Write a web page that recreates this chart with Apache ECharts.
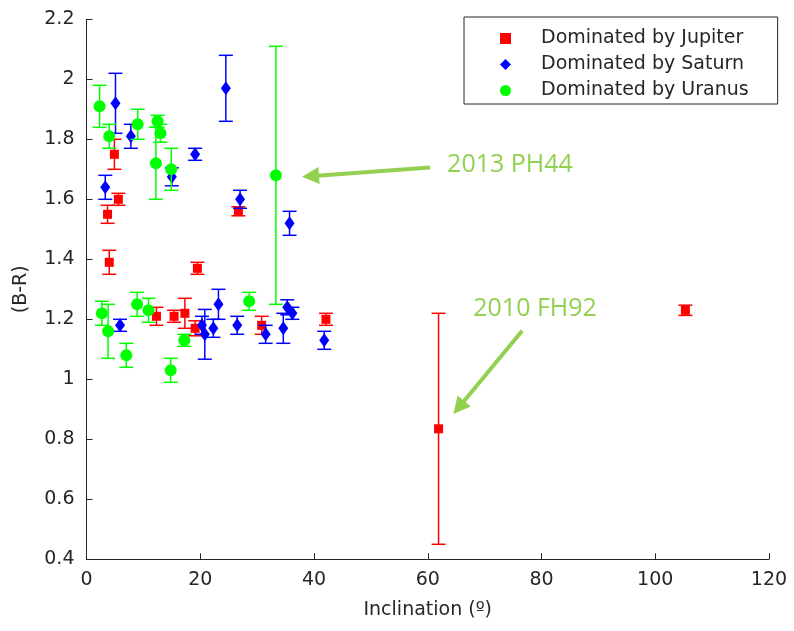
<!DOCTYPE html>
<html>
<head>
<meta charset="utf-8">
<script src="https://cdn.jsdelivr.net/npm/echarts@6/dist/echarts.min.js"></script>
<style>
  html, body { margin: 0; padding: 0; background: #ffffff; }
  #chart { width: 794px; height: 631px; }
</style>
</head>
<body>
<div id="chart"></div>
<script>
// Colour index (B-R) against orbital inclination, grouped by dominating planet.
const seriesNames = ['Dominated by Jupiter', 'Dominated by Saturn', 'Dominated by Uranus'];

const jupiterIncl = [4.9, 5.6, 3.7, 4.0, 19.5, 26.7, 12.3, 15.4, 17.3, 19.1, 30.8, 42.1, 61.9, 105.3];
const jupiterBR   = [1.75, 1.60, 1.55, 1.39, 1.37, 1.56, 1.21, 1.21, 1.22, 1.17, 1.18, 1.20, 0.835, 1.23];
const jupiterErr  = [0.05, 0.02, 0.03, 0.04, 0.02, 0.015, 0.03, 0.02, 0.05, 0.025, 0.03, 0.02, 0.385, 0.017];

const saturnIncl = [5.1, 7.8, 15.0, 19.1, 3.3, 24.5, 27.0, 35.7, 5.9, 20.3, 20.8, 22.3, 23.2, 26.5, 31.5, 34.6, 35.3, 36.2, 41.8];
const saturnBR   = [1.92, 1.81, 1.675, 1.75, 1.64, 1.97, 1.60, 1.52, 1.18, 1.18, 1.15, 1.17, 1.25, 1.18, 1.15, 1.17, 1.24, 1.22, 1.13];
const saturnErr  = [0.10, 0.04, 0.03, 0.02, 0.04, 0.11, 0.03, 0.04, 0.02, 0.03, 0.083, 0.03, 0.05, 0.03, 0.03, 0.05, 0.025, 0.02, 0.03];

const uranusIncl = [2.3, 4.0, 9.0, 12.5, 13.0, 12.2, 14.9, 33.3, 2.7, 3.8, 7.0, 8.9, 10.9, 14.8, 17.2, 28.6];
const uranusBR   = [1.91, 1.81, 1.85, 1.86, 1.82, 1.72, 1.70, 1.68, 1.22, 1.16, 1.08, 1.25, 1.23, 1.03, 1.13, 1.26];
const uranusErr  = [0.07, 0.04, 0.05, 0.02, 0.03, 0.12, 0.07, 0.43, 0.04, 0.09, 0.04, 0.04, 0.04, 0.04, 0.02, 0.03];

const xTickLabels = ['0', '20', '40', '60', '80', '100', '120'];
const yTickLabels = ['0.4', '0.6', '0.8', '1', '1.2', '1.4', '1.6', '1.8', '2', '2.2'];

// Labelled objects and where their callouts sit, in data units.
const calloutNames = ['2013 PH44', '2010 FH92'];
const calloutText  = [[63.4, 1.714], [68.0, 1.236]];
const calloutTail  = [[60.4, 1.706], [76.6, 1.162]];
const calloutTip   = [[37.9, 1.675], [64.5, 0.884]];

const TEXT = '#262626';
const FONT = 'DejaVu Sans';
const CALLOUT = '#92d050';

function points(xs, ys) { return xs.map((x, i) => [x, ys[i]]); }
function bars(xs, ys, es) { return xs.map((x, i) => [x, ys[i], es[i]]); }

function errorBarSeries(name, color, data, z) {
  return {
    name: name,
    type: 'custom',
    z: z,
    silent: true,
    data: data,
    encode: { x: 0, y: 1 },
    renderItem: function (params, api) {
      const x = api.value(0), y = api.value(1), e = api.value(2);
      const top = api.coord([x, y + e]);
      const bot = api.coord([x, y - e]);
      const cap = 7;
      const style = { stroke: color, lineWidth: 1.5, fill: null };
      return {
        type: 'group',
        children: [
          { type: 'line', shape: { x1: top[0], y1: top[1], x2: bot[0], y2: bot[1] }, style: style },
          { type: 'line', shape: { x1: top[0] - cap, y1: top[1], x2: top[0] + cap, y2: top[1] }, style: style },
          { type: 'line', shape: { x1: bot[0] - cap, y1: bot[1], x2: bot[0] + cap, y2: bot[1] }, style: style }
        ]
      };
    }
  };
}

function markerSeries(name, color, symbol, size, data, z) {
  return {
    name: name,
    type: 'scatter',
    z: z,
    symbol: symbol,
    symbolSize: size,
    itemStyle: { color: color, opacity: 1 },
    data: data
  };
}

const chart = echarts.init(document.getElementById('chart'), null, { renderer: 'canvas' });

const option = {
  animation: false,
  backgroundColor: '#ffffff',
  textStyle: { fontFamily: FONT },
  grid: { left: 86.5, right: 25, top: 19.3, bottom: 71.7, containLabel: false },
  legend: {
    data: seriesNames,
    orient: 'vertical',
    left: 464,
    top: 17,
    padding: [12, 29, 4, 36],
    itemWidth: 11,
    itemHeight: 11,
    itemGap: 7,
    borderColor: '#262626',
    borderWidth: 1,
    borderRadius: 0,
    backgroundColor: '#ffffff',
    selectedMode: false,
    formatter: function (name) { return '{t|' + name + '}'; },
    textStyle: {
      rich: { t: { fontFamily: FONT, fontSize: 19, color: TEXT, padding: [0, 0, 0, 25], lineHeight: 20 } }
    }
  },
  xAxis: {
    type: 'value',
    min: 0, max: 120, interval: 20,
    name: 'Inclination (º)',
    nameLocation: 'middle',
    nameGap: 41,
    nameTextStyle: { fontFamily: FONT, fontSize: 19, color: TEXT },
    axisLine: { lineStyle: { color: TEXT, width: 1 } },
    axisTick: { inside: true, length: 6, lineStyle: { color: TEXT } },
    axisLabel: {
      fontFamily: FONT, fontSize: 19, color: TEXT, margin: 11,
      formatter: function (v) { return xTickLabels[Math.round(v / 20)]; }
    },
    splitLine: { show: false }
  },
  yAxis: {
    type: 'value',
    min: 0.4, max: 2.2, interval: 0.2,
    name: '(B-R)',
    nameLocation: 'middle',
    nameGap: 56,
    nameRotate: 90,
    nameTextStyle: { fontFamily: FONT, fontSize: 19, color: TEXT },
    axisLine: { show: true, lineStyle: { color: TEXT, width: 1 } },
    axisTick: { show: true, inside: true, length: 6, lineStyle: { color: TEXT } },
    axisLabel: {
      fontFamily: FONT, fontSize: 19, color: TEXT, margin: 12,
      formatter: function (v) { return yTickLabels[Math.round((v - 0.4) / 0.2)]; }
    },
    splitLine: { show: false }
  },
  series: [
    errorBarSeries('Jupiter error', '#ff0000', bars(jupiterIncl, jupiterBR, jupiterErr), 1),
    markerSeries(seriesNames[0], '#ff0000', 'rect', 9, points(jupiterIncl, jupiterBR), 2),
    errorBarSeries('Saturn error', '#0000ff', bars(saturnIncl, saturnBR, saturnErr), 3),
    markerSeries(seriesNames[1], '#0000ff', 'diamond', [10, 14], points(saturnIncl, saturnBR), 4),
    errorBarSeries('Uranus error', '#00ff00', bars(uranusIncl, uranusBR, uranusErr), 5),
    markerSeries(seriesNames[2], '#00ff00', 'circle', 12, points(uranusIncl, uranusBR), 6)
  ]
};

chart.setOption(option);

// Callout arrows and labels, placed through the grid's own coordinate system.
function toPx(p) { return chart.convertToPixel({ gridIndex: 0 }, p); }

const callouts = [];
calloutNames.forEach(function (label, i) {
  const tail = toPx(calloutTail[i]);
  const tip = toPx(calloutTip[i]);
  const txt = toPx(calloutText[i]);
  const dx = tip[0] - tail[0], dy = tip[1] - tail[1];
  const len = Math.sqrt(dx * dx + dy * dy);
  const ux = dx / len, uy = dy / len;
  const headLen = 17, headHalf = 8.5;
  const base = [tip[0] - ux * headLen, tip[1] - uy * headLen];
  callouts.push({
    type: 'line', z: 20,
    shape: { x1: tail[0], y1: tail[1], x2: base[0] + ux * 2, y2: base[1] + uy * 2 },
    style: { stroke: CALLOUT, lineWidth: 4, lineCap: 'butt' }
  });
  callouts.push({
    type: 'polygon', z: 20,
    shape: { points: [
      tip,
      [base[0] - uy * headHalf, base[1] + ux * headHalf],
      [base[0] + uy * headHalf, base[1] - ux * headHalf]
    ] },
    style: { fill: CALLOUT }
  });
  callouts.push({
    type: 'text', z: 20,
    x: txt[0], y: txt[1],
    style: {
      text: label, fill: CALLOUT,
      font: '25px "Open Sans"',
      textAlign: 'left', textVerticalAlign: 'middle'
    }
  });
});

chart.setOption({ graphic: callouts });
</script>
</body>
</html>
